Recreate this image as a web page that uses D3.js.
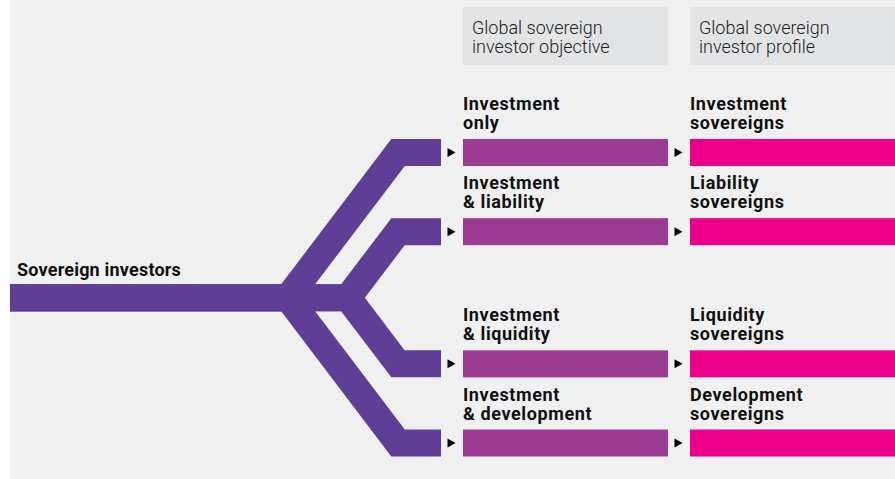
<!DOCTYPE html>
<html lang="en">
<head>
<meta charset="utf-8">
<script src="https://d3js.org/d3.v7.min.js"></script>
<style>
  body { margin: 0; background: #fff; }
  text { font-family: Roboto, "Noto Sans", sans-serif; }
</style>
</head>
<body>
</body>
<script type="text/javascript">

// data
var source = "Sovereign investors";
var headers = [["Global sovereign", "investor objective"], ["Global sovereign", "investor profile"]];
var objectives = [["Investment", "only"], ["Investment", "& liability"], ["Investment", "& liquidity"], ["Investment", "& development"]];
var profiles = [["Investment", "sovereigns"], ["Liability", "sovereigns"], ["Liquidity", "sovereigns"], ["Development", "sovereigns"]];

var W = 895, H = 479;
var barH = 27;

var svg = d3.select("body")
  .append("svg")
  .attr("width", W)
  .attr("height", H);

svg.append("rect").attr("x", 10).attr("y", 0).attr("width", W - 10).attr("height", H).attr("fill", "#f0f0f0");

// rows: two pairs with a gap in the middle
var gap = 0.67;
var slot = (i) => i + (i >= 2 ? gap : 0);
var y = d3.scaleLinear().domain([0, 3 + gap]).range([152.5, 443]);
var midY = y((3 + gap) / 2);

// columns
var x = d3.scaleBand().domain(["obj", "prof"]).range([463, 895]).paddingInner(0.097).paddingOuter(0).align(0);

var rows = objectives.map((o, i) => ({ i: i, obj: o, prof: profiles[i] }));

// branching tree
var slope = 1.32, cornerX = 398, endX = 441;
var line = d3.line();
svg.selectAll("path.branch")
  .data(rows)
  .enter()
  .append("path")
  .attr("class", "branch")
  .attr("d", function (d) {
    var yy = y(slot(d.i));
    var jx = cornerX - Math.abs(yy - midY) / slope;
    return line([[10, midY], [jx, midY], [cornerX, yy], [endX, yy]]);
  })
  .attr("fill", "none")
  .attr("stroke", "#5f3e95")
  .attr("stroke-width", barH)
  .attr("stroke-linejoin", "miter")
  .attr("stroke-miterlimit", 4);

svg.append("text")
  .attr("x", 17).attr("y", midY - 22)
  .attr("font-weight", 700).attr("font-size", 18).attr("fill", "#111")
  .attr("letter-spacing", 0.2)
  .text(source);

// headers
var hg = svg.selectAll("g.header")
  .data(headers)
  .enter()
  .append("g")
  .attr("transform", (d, i) => "translate(" + x(x.domain()[i]) + ",7)");
hg.append("rect").attr("width", x.bandwidth()).attr("height", 58).attr("fill", "#e2e3e5");
hg.selectAll("text")
  .data((d) => d)
  .enter()
  .append("text")
  .attr("x", 9).attr("y", (d, j) => 27 + j * 19)
  .attr("font-size", 18).attr("font-weight", 300).attr("fill", "#222")
  .text((d) => d);

// rows of bars
var rg = svg.selectAll("g.row")
  .data(rows)
  .enter()
  .append("g")
  .attr("class", "row")
  .attr("transform", (d) => "translate(0," + y(slot(d.i)) + ")");

var cols = [{ k: "obj", c: "#9b3c92" }, { k: "prof", c: "#ec008b" }];
cols.forEach(function (col) {
  var x0 = x(col.k);
  rg.append("rect")
    .attr("x", x0).attr("y", -barH / 2)
    .attr("width", x.bandwidth()).attr("height", barH)
    .attr("fill", col.c);
  rg.append("path")
    .attr("d", "M" + (x0 - 15.5) + "," + (-4.5) + "L" + (x0 - 7.5) + ",0L" + (x0 - 15.5) + ",4.5Z")
    .attr("fill", "#000");
  rg.each(function (d) {
    d3.select(this).selectAll("text." + col.k)
      .data(d[col.k])
      .enter()
      .append("text")
      .attr("class", col.k)
      .attr("x", x0)
      .attr("y", (t, j) => -barH / 2 - 29 + j * 19)
      .attr("font-size", 18).attr("font-weight", 700).attr("fill", "#111")
      .attr("letter-spacing", 0.6)
      .text((t) => t);
  });
});

</script>
</html>
